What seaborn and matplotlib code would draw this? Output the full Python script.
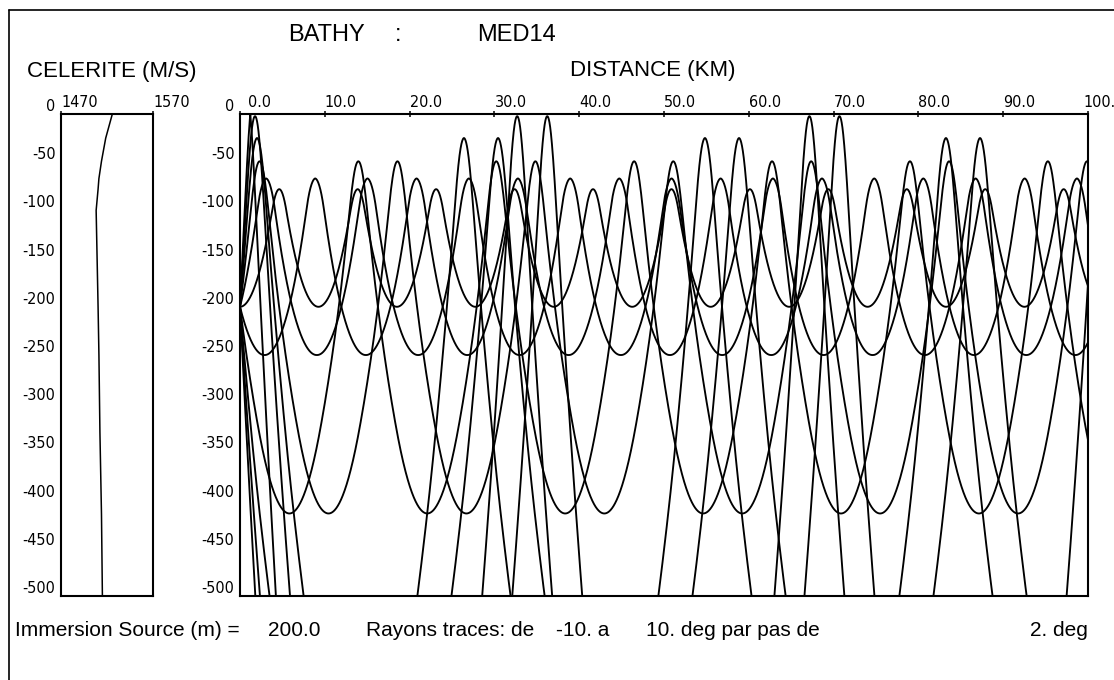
import bisect
import math

import matplotlib
matplotlib.use("Agg")
import matplotlib.pyplot as plt
import numpy as np
import pandas as pd
import seaborn as sns
from matplotlib import font_manager
from matplotlib.lines import Line2D
from matplotlib.transforms import ScaledTranslation

# sound speed profile (bathy MED14), depth in m, celerity in m/s
depth_m = [0, 25, 49, 67, 78, 100, 200, 250, 330, 415, 800, 2500]
celerity = [1525.8, 1518.6, 1514.0, 1511.2, 1510.3, 1508.2, 1510.3, 1511.22, 1512.3, 1514.0, 1518.5, 1542.1]
bottom_depth = 1500.0

source_depth = 200.0
ray_angles = [-10, -8, -6, -4, -2, 0, 2, 4, 6, 8, 10]
range_km = 100.0

dist_ticks = [0, 10, 20, 30, 40, 50, 60, 70, 80, 90, 100]
dist_labels = ["0.0", "10.0", "20.0", "30.0", "40.0", "50.0", "60.0", "70.0", "80.0", "90.0", "100."]
depth_ticks = [0, -50, -100, -150, -200, -250, -300, -350, -400, -450, -500]
depth_labels = ["0", "-50", "-100", "-150", "-200", "-250", "-300", "-350", "-400", "-450", "-500"]
cel_ticks = [1470, 1570]
cel_labels = ["1470", "1570"]

grads = [(celerity[i + 1] - celerity[i]) / (depth_m[i + 1] - depth_m[i]) for i in range(len(depth_m) - 1)]


def sound(z):
    i = min(max(bisect.bisect_right(depth_m, z) - 1, 0), len(grads) - 1)
    return celerity[i] + grads[i] * (z - depth_m[i]), grads[i]


def trace_ray(angle, ds=5.0):
    # ray equations (z positive downward), Snell invariant kept, surface reflection, stop at bottom
    x, z, th = 0.0, source_depth, math.radians(angle)
    xi = math.cos(th) / sound(z)[0]
    xs, zs = [x], [z]
    while x < range_km * 1000 and z < bottom_depth:
        c, g = sound(z)
        thm = th - 0.5 * ds * math.cos(th) * g / c
        zm = z + 0.5 * ds * math.sin(th)
        cm, gm = sound(zm)
        x += ds * math.cos(thm)
        z += ds * math.sin(thm)
        th -= ds * math.cos(thm) * gm / cm
        if z < 0:
            z, th = -z, -th
        q = xi * sound(z)[0]
        if q < 1.0 and th != 0.0:
            th = math.copysign(math.acos(q), th)
        xs.append(x)
        zs.append(z)
    return np.array(xs) / 1000.0, -np.array(zs)


frames = []
for a in ray_angles:
    xr, zr = trace_ray(a)
    frames.append(pd.DataFrame({"distance": xr, "depth": zr, "angle": a}))
rays = pd.concat(frames, ignore_index=True)

profile = pd.DataFrame({"celerity": celerity, "depth": [-d for d in depth_m]})

sns.set_theme(style="white")
plt.rcParams["font.family"] = ["Liberation Sans", "DejaVu Sans"]
plt.rcParams["axes.unicode_minus"] = False

# a narrow face for the numbers if one is installed
narrow = None
for f in font_manager.fontManager.ttflist:
    if ("Narrow" in f.name or "Condensed" in f.name or f.stretch in ("condensed", "semi-condensed")) \
            and f.style == "normal" and f.weight in (400, "normal", "regular", "book"):
        narrow = f
        break
if narrow is not None:
    num_font = dict(family=narrow.name, stretch=narrow.stretch, size=11.5)
else:
    num_font = dict(family="DejaVu Sans", size=10.5)

W, H = 1114, 680
fig = plt.figure(figsize=(W / 100, H / 100), dpi=100)


def fx(px):
    return px / W


def fy(py):
    return 1 - py / H


ax_c = fig.add_axes([fx(61), fy(596), fx(153) - fx(61), fy(114) - fy(596)])
ax_r = fig.add_axes([fx(240), fy(596), fx(1088) - fx(240), fy(114) - fy(596)])

sns.lineplot(data=profile, x="celerity", y="depth", sort=False, estimator=None,
             color="black", lw=1.1, ax=ax_c)
sns.lineplot(data=rays, x="distance", y="depth", units="angle", estimator=None, sort=False,
             color="black", lw=1.35, ax=ax_r, legend=False)

ax_c.set_xlim(1470, 1570)
ax_r.set_xlim(0, 100)
ax_c.set_xticks(cel_ticks, labels=cel_labels)
ax_r.set_xticks(dist_ticks, labels=dist_labels)
for ax in (ax_c, ax_r):
    ax.set_ylim(-500, 0)
    ax.set_xlabel("")
    ax.set_ylabel("")
    for s in ax.spines.values():
        s.set_color("black")
        s.set_linewidth(1.5)
    ax.xaxis.tick_top()
    ax.set_yticks(depth_ticks, labels=depth_labels)
    ax.tick_params(axis="y", direction="inout", length=6, width=1.1, colors="black", pad=1)
    ax.tick_params(axis="x", direction="inout", length=4.5, width=1.1, colors="black", pad=0.5)
    for lab in ax.get_yticklabels():
        lab.set_verticalalignment("bottom")
        lab.set(**num_font)
    for lab in ax.get_xticklabels():
        lab.set_horizontalalignment("left")
        lab.set(**num_font)

# keep "100." inside the sheet
last = ax_r.get_xticklabels()[-1]
last.set_transform(last.get_transform() + ScaledTranslation(-3 / 72, 0, fig.dpi_scale_trans))
first = ax_r.get_xticklabels()[0]
first.set_transform(first.get_transform() + ScaledTranslation(6 / 72, 0, fig.dpi_scale_trans))

head = dict(fontsize=17, color="black", va="baseline")
fig.text(fx(288), fy(41), "BATHY", **head)
fig.text(fx(395), fy(41), ":", **head)
fig.text(fx(477), fy(41), "MED14", **head)
fig.text(fx(27), fy(77), "CELERITE (M/S)", fontsize=16, color="black", va="baseline")
fig.text(fx(570), fy(76), "DISTANCE (KM)", fontsize=16, color="black", va="baseline")

foot = dict(fontsize=15, color="black", va="baseline")
fig.text(fx(15), fy(636), "Immersion Source (m) =", **foot)
fig.text(fx(268), fy(636), "200.0", **foot)
fig.text(fx(366), fy(636), "Rayons traces: de", **foot)
fig.text(fx(556), fy(636), "-10. a", **foot)
fig.text(fx(646), fy(636), "10. deg par pas de", **foot)
fig.text(fx(1030), fy(636), "2. deg", **foot)

# outer frame of the plotter sheet
fig.add_artist(Line2D([fx(9), fx(9)], [fy(10), 0], color="black", lw=1.2))
fig.add_artist(Line2D([fx(9), 1], [fy(10), fy(10)], color="black", lw=1.2))

fig.savefig("out.png", dpi=100)
